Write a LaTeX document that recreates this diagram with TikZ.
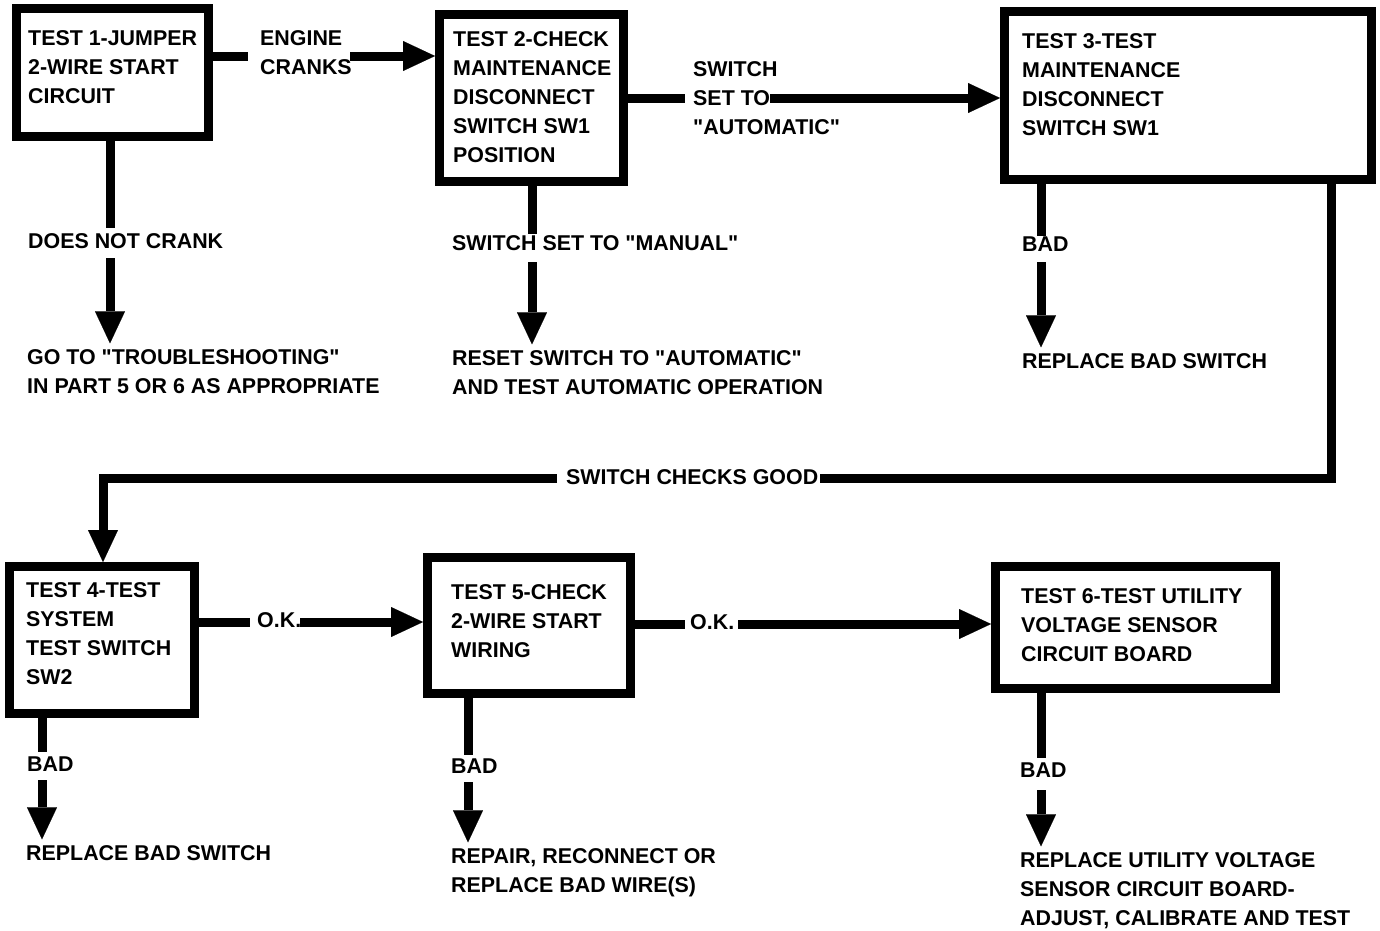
\documentclass[tikz,border=0pt]{standalone}
\usepackage{fontspec}
\setmainfont{Liberation Sans}[Ligatures=TeXOff]
\usetikzlibrary{arrows.meta}
\begin{document}
\begin{tikzpicture}[x=1pt,y=-1pt,
  box/.style={draw, line width=9pt, inner sep=0pt},
  txt/.style={font=\bfseries\fontsize{21.4}{29}\selectfont, align=left, anchor=base west, inner sep=0pt},
  wire/.style={line width=9pt},
  arr/.style={line width=9pt, -{Triangle[length=32pt,width=30pt,line width=0.1pt]}},
  toresult/.style={arr, shorten >=6pt}]
\useasboundingbox (0,0) rectangle (1380,930);

% boxes
\node[box, minimum width=192pt, minimum height=128pt] (b1) at (112.5,72.5) {};
\node[box, minimum width=184pt, minimum height=167pt] (b2) at (531.5,98) {};
\node[box, minimum width=367pt, minimum height=168pt] (b3) at (1188,95.5) {};
\node[box, minimum width=185pt, minimum height=147pt] (b4) at (102,640) {};
\node[box, minimum width=203pt, minimum height=136pt] (b5) at (529,625.5) {};
\node[box, minimum width=280pt, minimum height=122pt] (b6) at (1135.5,627.5) {};

% box texts (anchored at the baseline of the last line)
\node[txt] (t1) at (28,103.5) {TEST 1-JUMPER\\2-WIRE START\\CIRCUIT};
\node[txt] (t2) at (453,162.5) {TEST 2-CHECK\\MAINTENANCE\\DISCONNECT\\SWITCH SW1\\POSITION};
\node[txt] (t3) at (1022,135.5) {TEST 3-TEST\\MAINTENANCE\\DISCONNECT\\SWITCH SW1};
\node[txt] (t4) at (26,684.5) {TEST 4-TEST\\SYSTEM\\TEST SWITCH\\SW2};
\node[txt] (t5) at (451,657.5) {TEST 5-CHECK\\2-WIRE START\\WIRING};
\node[txt] (t6) at (1021,661.5) {TEST 6-TEST UTILITY\\VOLTAGE SENSOR\\CIRCUIT BOARD};

% connector labels
\node[txt] (l12) at (260,74.5) {ENGINE\\CRANKS};
\node[txt] (l23) at (693,134.5) {SWITCH\\SET TO\\"AUTOMATIC"};
\node[txt] (l1d) at (28,248.5) {DOES NOT CRANK};
\node[txt] (l2d) at (452,250.5) {SWITCH SET TO "MANUAL"};
\node[txt] (l3d) at (1022,251.5) {BAD};
\node[txt] (l34) at (566,484.5) {SWITCH CHECKS GOOD};
\node[txt] (l45) at (257,627.5) {O.K.};
\node[txt] (l56) at (690,629.5) {O.K.};
\node[txt] (l4d) at (27,771.5) {BAD};
\node[txt] (l5d) at (451,773.5) {BAD};
\node[txt] (l6d) at (1020,777.5) {BAD};

% results
\node[txt] (r1) at (27,393.5) {GO TO "TROUBLESHOOTING"\\IN PART 5 OR 6 AS APPROPRIATE};
\node[txt] (r2) at (452,394.5) {RESET SWITCH TO "AUTOMATIC"\\AND TEST AUTOMATIC OPERATION};
\node[txt] (r3) at (1022,368.5) {REPLACE BAD SWITCH};
\node[txt] (r4) at (26,860.5) {REPLACE BAD SWITCH};
\node[txt] (r5) at (451,892.5) {REPAIR, RECONNECT OR\\REPLACE BAD WIRE(S)};
\node[txt] (r6) at (1020,925.5) {REPLACE UTILITY VOLTAGE\\SENSOR CIRCUIT BOARD-\\ADJUST, CALIBRATE AND TEST};

% free-end coordinates
\coordinate (a1) at (248,56);  \coordinate (a2) at (350,56);
\coordinate (a3) at (685,98);  \coordinate (a4) at (770,98);
\coordinate (a5) at (250,622); \coordinate (a6) at (300,622);
\coordinate (a7) at (685,624); \coordinate (a8) at (738,624);
\coordinate (d1) at (110,228); \coordinate (e1) at (110,258);
\coordinate (d2) at (532,234); \coordinate (e2) at (532,262);
\coordinate (d3) at (1041,236); \coordinate (e3) at (1041,262);
\coordinate (d4) at (42,752);  \coordinate (e4) at (42,780);
\coordinate (d5) at (468,755); \coordinate (e5) at (468,782);
\coordinate (d6) at (1041,758); \coordinate (e6) at (1041,790);
\coordinate (g1) at (1331,478); \coordinate (g2) at (820,478);
\coordinate (g3) at (557,478); \coordinate (g4) at (103,478);

% horizontal connectors
\draw[wire] (b1.east |- a1) -- (a1);
\draw[arr] (a2) -- (b2.west |- a2);
\draw[wire] (b2.east |- a3) -- (a3);
\draw[arr] (a4) -- (b3.west |- a4);
\draw[wire] (b4.east |- a5) -- (a5);
\draw[arr] (a6) -- (b5.west |- a6);
\draw[wire] (b5.east |- a7) -- (a7);
\draw[arr] (a8) -- (b6.west |- a8);

% downward branches
\draw[wire] (b1.south -| d1) -- (d1);
\draw[toresult] (e1) -- (r1.north -| e1);
\draw[wire] (b2.south -| d2) -- (d2);
\draw[toresult] (e2) -- (r2.north -| e2);
\draw[wire] (b3.south -| d3) -- (d3);
\draw[toresult] (e3) -- (r3.north -| e3);
\draw[wire] (b4.south -| d4) -- (d4);
\draw[toresult] (e4) -- (r4.north -| e4);
\draw[wire] (b5.south -| d5) -- (d5);
\draw[toresult] (e5) -- (r5.north -| e5);
\draw[wire] (b6.south -| d6) -- (d6);
\draw[toresult] (e6) -- (r6.north -| e6);

% test 3 -> test 4
\draw[wire] (b3.south -| g1) -- (g1) -- (g2);
\draw[arr] (g3) -- (g4) -- (b4.north -| g4);
\end{tikzpicture}
\end{document}
